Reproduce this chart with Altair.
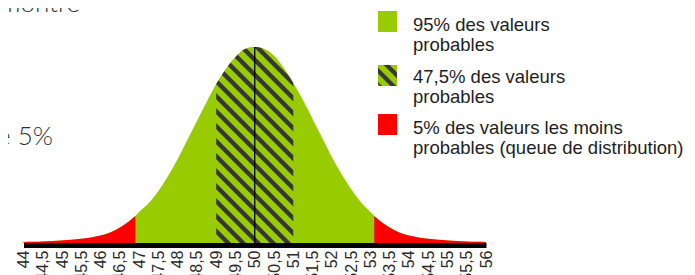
import math
import altair as alt
import pandas as pd

# ---------------- data ----------------
x_values = [44, 44.25, 44.5, 44.75, 45, 45.25, 45.5, 45.75, 46, 46.25, 46.5, 46.75, 46.9,
            47, 47.25, 47.5, 47.75, 48, 48.25, 48.5, 48.75, 49, 49.25, 49.5, 49.75, 50,
            50.25, 50.5, 50.75, 51, 51.25, 51.5, 51.75, 52, 52.25, 52.5, 52.75, 53, 53.1,
            53.25, 53.5, 53.75, 54, 54.25, 54.5, 54.75, 55, 55.25, 55.5, 55.75, 56]
heights = [1.0, 1.2, 1.5, 2.0, 2.6, 3.3, 4.2, 5.5, 7.5, 10.5, 15.5, 22, 27,
           31, 40, 52, 67, 84, 103, 122, 141, 159, 174, 186, 194, 196,
           194, 187, 175, 160, 143, 124, 105, 86, 69, 54, 41, 31, 27,
           22, 15.5, 10.5, 7.5, 5.5, 4.2, 3.3, 2.6, 2.0, 1.5, 1.2, 1.0]

lower_tail = 46.9
upper_tail = 53.1
band_low = 49
band_high = 51
mean_value = 50

tick_values = [44, 44.5, 45, 45.5, 46, 46.5, 47, 47.5, 48, 48.5, 49, 49.5, 50,
               50.5, 51, 51.5, 52, 52.5, 53, 53.5, 54, 54.5, 55, 55.5, 56]
tick_labels = ["44", "44,5", "45", "45,5", "46", "46,5", "47", "47,5", "48", "48,5",
               "49", "49,5", "50", "50,5", "51", "51,5", "52", "52,5", "53", "53,5",
               "54", "54,5", "55", "55,5", "56"]

legend_green = ["95% des valeurs", "probables"]
legend_hatch = ["47,5% des valeurs", "probables"]
legend_red = ["5% des valeurs les moins", "probables (queue de distribution)"]

text_top = "La courbe montre"
text_left = "un risque de 5%"

# ---------------- style ----------------
GREEN = "#99cc00"
RED = "#ff0000"
DARK = "#363636"
W_PLOT = 462.5
H_PLOT = 235

df = pd.DataFrame({"x": x_values, "h": heights})
one = pd.DataFrame({"k": [0]})


def stripes(W, H, period=10.6, dark_frac=0.42, m=1.0, edge=1.2, phase=0.0):
    """Linear gradient that looks like diagonal hatching inside a W x H box."""
    L = (W * m + H) / math.sqrt(1 + m * m)
    s = (W * m + H) / ((W * m) ** 2 + H ** 2)
    x2 = s * W * m
    y2 = 1 - s * H
    pts = [(0.0, GREEN)]
    k = -1
    while True:
        a = phase + k * period
        if a > L:
            break
        b = a + (1 - dark_frac) * period
        c = a + period
        for p, col in [(a + edge / 2, GREEN), (b - edge / 2, GREEN),
                       (b + edge / 2, DARK), (c - edge / 2, DARK)]:
            if 0 < p < L:
                pts.append((p / L, col))
        k += 1
    pts.append((1.0, pts[-1][1]))
    return alt.LinearGradient(
        gradient="linear",
        x1=0, y1=1, x2=x2, y2=y2,
        stops=[alt.GradientStop(offset=o, color=c) for o, c in pts],
    )


label_expr = "[" + ",".join("'%s'" % t for t in tick_labels) + "][indexof([" + \
    ",".join(str(v) for v in tick_values) + "], datum.value)]"

xenc = alt.X(
    "x:Q",
    scale=alt.Scale(domain=[44, 56], nice=False, zero=False),
    axis=alt.Axis(
        values=tick_values, labelExpr=label_expr, labelAngle=-90,
        labelFont="Liberation Sans", labelFontSize=16, labelColor="#2a2a2a",
        labelPadding=5, ticks=False, tickSize=0, grid=False,
        domainColor="#000000", domainWidth=5, offset=2, title=None,
        labelOverlap=False, labelBound=False, labelFlush=False,
    ),
)
yenc = alt.Y("h:Q", scale=alt.Scale(domain=[0, H_PLOT], nice=False, zero=True), axis=None)

base = alt.Chart(df)

green = base.mark_area(fill=GREEN, interpolate="monotone").encode(x=xenc, y=yenc)
red_left = base.transform_filter(alt.datum.x <= lower_tail).mark_area(
    fill=RED, interpolate="monotone").encode(x=xenc, y=yenc)
red_right = base.transform_filter(alt.datum.x >= upper_tail).mark_area(
    fill=RED, interpolate="monotone").encode(x=xenc, y=yenc)

band_w = (band_high - band_low) * W_PLOT / 12.0
band_h = max(h for x, h in zip(x_values, heights) if band_low <= x <= band_high)
hatch = base.transform_filter(
    (alt.datum.x >= band_low) & (alt.datum.x <= band_high)
).mark_area(fill=stripes(band_w, band_h), interpolate="monotone").encode(x=xenc, y=yenc)

mean_rule = base.transform_filter(alt.datum.x == mean_value).mark_rule(
    color="#000000", strokeWidth=1.3).encode(x=xenc, y=yenc, y2=alt.datum(0))

# legend (drawn by hand, positions in pixels)
sq_x, sq_x2 = 354.5, 373.5
leg_green = alt.Chart(one).mark_rect(fill=GREEN).encode(
    x=alt.value(sq_x), x2=alt.value(sq_x2), y=alt.value(3), y2=alt.value(24))
leg_hatch = alt.Chart(one).mark_rect(fill=stripes(19, 21, period=10.0, dark_frac=0.42, phase=3)).encode(
    x=alt.value(sq_x), x2=alt.value(sq_x2), y=alt.value(57), y2=alt.value(78))
leg_red = alt.Chart(one).mark_rect(fill=RED).encode(
    x=alt.value(sq_x), x2=alt.value(sq_x2), y=alt.value(106), y2=alt.value(127))

def legend_text(lines, y):
    return alt.Chart(one).mark_text(
        text=lines, align="left", baseline="alphabetic", font="Liberation Sans",
        fontSize=18.5, lineHeight=20, color="#1e1e1e",
    ).encode(x=alt.value(389.5), y=alt.value(y))

t1 = legend_text(legend_green, 23)
t2 = legend_text(legend_hatch, 74.5)
t3 = legend_text(legend_red, 126.3)

top_text = alt.Chart(one).mark_text(
    text=text_top, align="right", baseline="alphabetic", font="Lato", fontWeight=300,
    fontSize=26, color="#333333").encode(x=alt.value(56.5), y=alt.value(4))
left_text = alt.Chart(one).mark_text(
    text=text_left, align="right", baseline="alphabetic", font="Lato", fontWeight=300,
    fontSize=26, color="#333333").encode(x=alt.value(29.5), y=alt.value(136.5))

chart = alt.layer(
    green, red_left, red_right, hatch, mean_rule,
    leg_green, leg_hatch, leg_red, t1, t2, t3, top_text, left_text,
).properties(
    width=W_PLOT, height=H_PLOT,
    padding={"left": 15.5, "top": 0, "right": 201, "bottom": 32},
    autosize="none", background="white",
).configure_view(stroke=None)

chart.save("out.html", embed_options={"renderer": "svg", "actions": False})
